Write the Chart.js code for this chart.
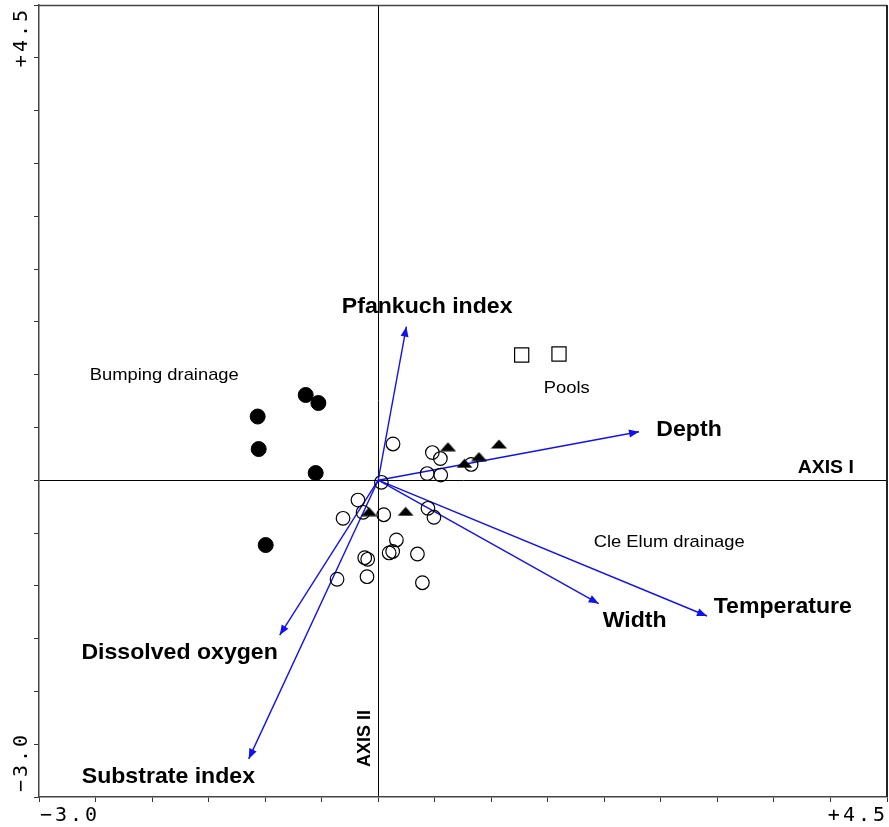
<!DOCTYPE html>
<html>
<head>
<meta charset="utf-8">
<script src="https://cdn.jsdelivr.net/npm/chart.js@4.4.1/dist/chart.umd.min.js"></script>
<style>
  html, body { margin: 0; padding: 0; background: #fff; }
  canvas { display: block; }
</style>
</head>
<body>
<canvas id="ordination" width="889" height="827"></canvas>
<script>
// site scores, grouped by drainage / habitat
const bumpingX = [-1.066, -0.641, -0.529, -1.057, -0.553, -0.995];
const bumpingY = [0.603, 0.807, 0.731, 0.295, 0.068, -0.614];

const cleElumX = [0.131, 0.479, 0.550, 0.822, 0.433, 0.553, 0.028, -0.179, -0.134, -0.311, 0.049,
                  0.440, 0.493, 0.161, 0.128, 0.097, 0.347, -0.119, -0.093, -0.364, -0.099, 0.391];
const cleElumY = [0.343, 0.262, 0.205, 0.149, 0.063, 0.049, -0.020, -0.188, -0.304, -0.361, -0.327,
                  -0.266, -0.351, -0.566, -0.675, -0.689, -0.699, -0.734, -0.749, -0.938, -0.914, -0.971];

const triangleX = [0.617, 1.068, 0.891, 0.763, -0.081, 0.243];
const triangleY = [0.317, 0.343, 0.224, 0.160, -0.298, -0.295];

const poolsX = [1.269, 1.599];
const poolsY = [1.186, 1.195];

// environmental vectors
const variables = ["Pfankuch index", "Depth", "Temperature", "Width", "Dissolved oxygen", "Substrate index"];
const vecX = [0.249, 2.307, 2.908, 1.950, -0.871, -1.145];
const vecY = [1.454, 0.459, -1.286, -1.168, -1.466, -2.639];

const axisMin = -3.0;
const axisMax = 4.5;

// label placement (data units), kept apart from the values
const varLabelPos = [
  [0.433, 1.583, "center"],
  [2.460, 0.423, "left"],
  [2.967, -1.258, "left"],
  [1.985, -1.390, "left"],
  [-2.625, -1.693, "left"],
  [-2.622, -2.866, "left"]
];
const groupLabels = [
  ["Bumping drainage", -2.551, 0.949],
  ["Pools", 1.464, 0.829],
  ["Cle Elum drainage", 1.906, -0.633]
];

const BLUE = "#1212f0";

function pts(xs, ys) {
  return xs.map((x, i) => ({ x: x, y: ys[i] }));
}

// flat filled triangle marker
const triMarker = document.createElement("canvas");
triMarker.width = 17;
triMarker.height = 10;
(function () {
  const c = triMarker.getContext("2d");
  c.fillStyle = "#000";
  c.beginPath();
  c.moveTo(0.5, 9.5);
  c.lineTo(16.5, 9.5);
  c.lineTo(8.5, 0.5);
  c.closePath();
  c.fill();
})();

const datasets = [
  { data: pts(bumpingX, bumpingY), pointStyle: "circle", pointRadius: 7.5,
    backgroundColor: "#000", borderColor: "#000", borderWidth: 1, order: 0 },
  { data: pts(cleElumX, cleElumY), pointStyle: "circle", pointRadius: 6.8,
    backgroundColor: "rgba(0,0,0,0)", borderColor: "#000", borderWidth: 1.2, order: 0 },
  { data: pts(triangleX, triangleY), pointStyle: triMarker, pointRadius: 8, order: 0 },
  { data: pts(poolsX, poolsY), pointStyle: "rect", pointRadius: 10,
    backgroundColor: "rgba(0,0,0,0)", borderColor: "#000", borderWidth: 1.2, order: 0 }
];
variables.forEach((name, i) => {
  datasets.push({
    type: "line", label: name,
    data: [{ x: 0, y: 0 }, { x: vecX[i], y: vecY[i] }],
    borderColor: BLUE, borderWidth: 1.4, pointRadius: 0, fill: false, order: 1
  });
});

function zeroOnly(ctx) {
  return ctx.tick && Math.abs(ctx.tick.value) < 1e-9 ? "#000" : "rgba(0,0,0,0)";
}

function drawText(ctx, text, x, y, font, align, sx, rot) {
  ctx.save();
  ctx.translate(x, y);
  if (rot) ctx.rotate(rot);
  ctx.scale(sx || 1, 1);
  ctx.font = font;
  ctx.textAlign = align || "left";
  ctx.textBaseline = "alphabetic";
  ctx.fillStyle = "#000";
  ctx.fillText(text, 0, 0);
  ctx.restore();
}

const decorations = {
  id: "decorations",
  afterDatasetsDraw(chart) {
    const ctx = chart.ctx;
    const xs = chart.scales.x, ys = chart.scales.y;
    // arrowheads
    ctx.save();
    ctx.fillStyle = BLUE;
    for (let i = 0; i < vecX.length; i++) {
      const x0 = xs.getPixelForValue(0), y0 = ys.getPixelForValue(0);
      const x1 = xs.getPixelForValue(vecX[i]), y1 = ys.getPixelForValue(vecY[i]);
      const a = Math.atan2(y1 - y0, x1 - x0);
      ctx.beginPath();
      ctx.moveTo(x1, y1);
      ctx.lineTo(x1 - 10 * Math.cos(a) + 4 * Math.sin(a), y1 - 10 * Math.sin(a) - 4 * Math.cos(a));
      ctx.lineTo(x1 - 10 * Math.cos(a) - 4 * Math.sin(a), y1 - 10 * Math.sin(a) + 4 * Math.cos(a));
      ctx.closePath();
      ctx.fill();
    }
    ctx.restore();
  },
  afterDraw(chart) {
    const ctx = chart.ctx;
    const xs = chart.scales.x, ys = chart.scales.y;
    const area = chart.chartArea;

    // frame
    ctx.save();
    ctx.strokeStyle = "#444";
    ctx.lineWidth = 1.5;
    ctx.beginPath();
    ctx.moveTo(area.left, area.top + 0.5);
    ctx.lineTo(area.right, area.top + 0.5);
    ctx.stroke();
    ctx.strokeStyle = "#222";
    ctx.lineWidth = 2;
    ctx.beginPath();
    ctx.moveTo(area.right, area.top);
    ctx.lineTo(area.right, area.bottom);
    ctx.stroke();
    ctx.restore();

    const bold = 'bold 22px "Liberation Sans", Arial, sans-serif';
    variables.forEach((name, i) => {
      const p = varLabelPos[i];
      drawText(ctx, name, xs.getPixelForValue(p[0]), ys.getPixelForValue(p[1]), bold, p[2], 1.05);
    });

    const plain = '17px "Liberation Sans", Arial, sans-serif';
    groupLabels.forEach(g => {
      drawText(ctx, g[0], xs.getPixelForValue(g[1]), ys.getPixelForValue(g[2]), plain, "left", 1.08);
    });

    const axisFont = 'bold 18px "Liberation Sans", Arial, sans-serif';
    drawText(ctx, "AXIS I", xs.getPixelForValue(3.710), ys.getPixelForValue(0.068), axisFont, "left", 1.08);
    drawText(ctx, "AXIS II", xs.getPixelForValue(-0.075), ys.getPixelForValue(-2.446), axisFont, "center", 1.0, -Math.PI / 2);

    // end tick labels
    ctx.save();
    ctx.font = '20px "DejaVu Sans Mono", monospace';
    ctx.letterSpacing = "3px";
    ctx.fillStyle = "#000";
    const lo = "\u22123.0", hi = "+4.5";
    const wHi = ctx.measureText(hi).width - 3;
    ctx.textAlign = "left";
    ctx.fillText(lo, area.left + 1, 821);
    ctx.fillText(hi, area.right - 2 - wHi, 821);
    ctx.translate(27, 0);
    ctx.rotate(-Math.PI / 2);
    ctx.fillText(hi, -(area.top + 5 + wHi), 0);
    ctx.fillText(lo, -(area.bottom - 5), 0);
    ctx.restore();
  }
};

new Chart(document.getElementById("ordination"), {
  type: "scatter",
  data: { datasets: datasets },
  options: {
    responsive: false,
    animation: false,
    devicePixelRatio: 1,
    layout: { autoPadding: false, padding: { top: 5, right: 2, left: 0, bottom: 0 } },
    plugins: { legend: { display: false }, tooltip: { enabled: false } },
    scales: {
      x: {
        type: "linear", min: axisMin, max: axisMax,
        ticks: { stepSize: 0.5, display: false },
        grid: { color: zeroOnly, tickColor: "#333", tickLength: 5, lineWidth: 1 },
        border: { color: "#444", width: 1.5 },
        afterFit(s) { s.height = 30; }
      },
      y: {
        type: "linear", min: axisMin, max: axisMax,
        ticks: { stepSize: 0.5, display: false },
        grid: { color: zeroOnly, tickColor: "#333", tickLength: 5, lineWidth: 1 },
        border: { color: "#444", width: 1.5 },
        afterFit(s) { s.width = 39; }
      }
    }
  },
  plugins: [decorations]
});
</script>
</body>
</html>
